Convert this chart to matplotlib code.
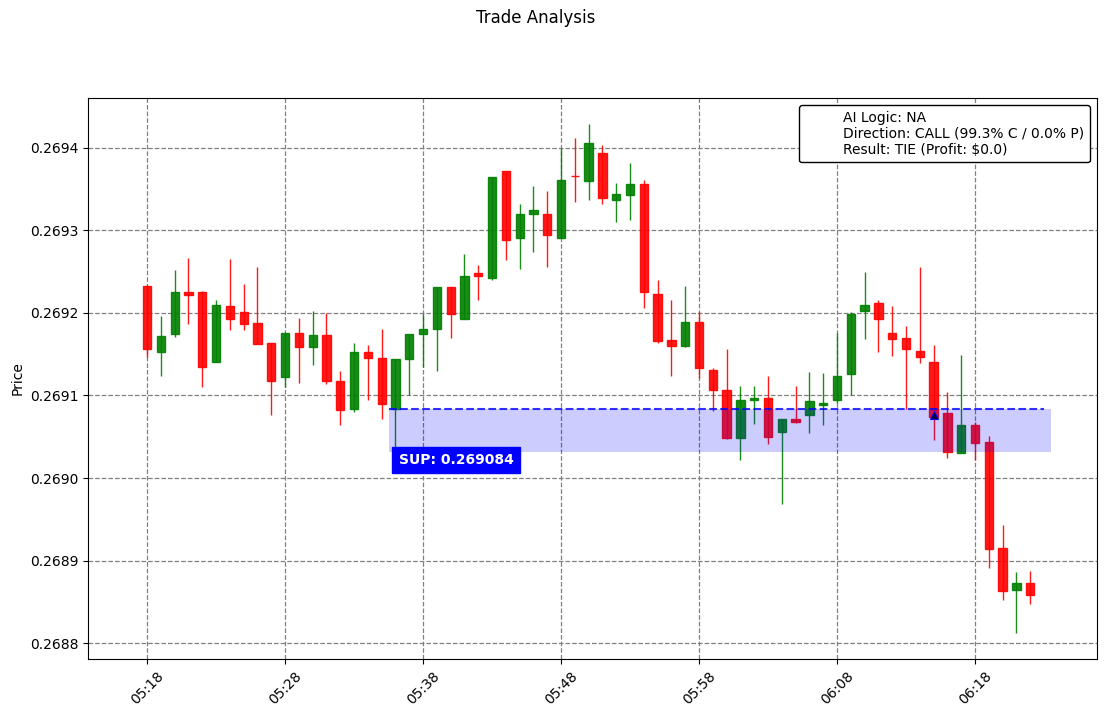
import matplotlib.pyplot as plt
from matplotlib.lines import Line2D
from matplotlib.ticker import FormatStrFormatter
import numpy as np

# candle data, one per minute from 05:18
times = ['05:18', '05:28', '05:38', '05:48', '05:58', '06:08', '06:18']
opens = [0.269233, 0.269152, 0.269174, 0.269225, 0.269225, 0.269140, 0.269208, 0.269201, 0.269188, 0.269164,
         0.269122, 0.269176, 0.269159, 0.269173, 0.269118, 0.269083, 0.269153, 0.269145, 0.269084, 0.269144,
         0.269174, 0.269180, 0.269231, 0.269193, 0.269248, 0.269242, 0.269372, 0.269290, 0.269319, 0.269320,
         0.269291, 0.269366, 0.269360, 0.269394, 0.269336, 0.269343, 0.269356, 0.269223, 0.269167, 0.269160,
         0.269189, 0.269131, 0.269106, 0.269048, 0.269095, 0.269097, 0.269056, 0.269072, 0.269076, 0.269089,
         0.269094, 0.269126, 0.269202, 0.269212, 0.269175, 0.269169, 0.269154, 0.269141, 0.269079, 0.269030,
         0.269064, 0.269044, 0.268915, 0.268865, 0.268873]
highs = [0.269234, 0.269196, 0.269252, 0.269266, 0.269226, 0.269215, 0.269265, 0.269235, 0.269255, 0.269164,
         0.269176, 0.269194, 0.269202, 0.269200, 0.269129, 0.269163, 0.269161, 0.269180, 0.269144, 0.269174,
         0.269198, 0.269231, 0.269231, 0.269271, 0.269258, 0.269364, 0.269372, 0.269332, 0.269354, 0.269348,
         0.269399, 0.269411, 0.269429, 0.269403, 0.269357, 0.269381, 0.269361, 0.269240, 0.269216, 0.269232,
         0.269201, 0.269133, 0.269156, 0.269111, 0.269111, 0.269124, 0.269071, 0.269111, 0.269128, 0.269127,
         0.269176, 0.269201, 0.269249, 0.269216, 0.269208, 0.269184, 0.269255, 0.269161, 0.269104, 0.269149,
         0.269068, 0.269051, 0.268943, 0.268886, 0.268887]
lows = [0.269146, 0.269123, 0.269171, 0.269186, 0.269110, 0.269140, 0.269179, 0.269179, 0.269162, 0.269076,
        0.269110, 0.269115, 0.269137, 0.269114, 0.269064, 0.269080, 0.269095, 0.269072, 0.269036, 0.269100,
        0.269134, 0.269130, 0.269169, 0.269193, 0.269215, 0.269240, 0.269264, 0.269253, 0.269274, 0.269255,
        0.269291, 0.269334, 0.269337, 0.269332, 0.269310, 0.269312, 0.269206, 0.269163, 0.269123, 0.269159,
        0.269121, 0.269081, 0.269047, 0.269022, 0.269065, 0.269041, 0.268968, 0.269067, 0.269055, 0.269064,
        0.269091, 0.269101, 0.269168, 0.269153, 0.269148, 0.269084, 0.269139, 0.269046, 0.269024, 0.269030,
        0.269022, 0.268891, 0.268853, 0.268812, 0.268847]
closes = [0.269156, 0.269172, 0.269225, 0.269222, 0.269135, 0.269209, 0.269192, 0.269187, 0.269162, 0.269118,
          0.269176, 0.269159, 0.269173, 0.269117, 0.269082, 0.269153, 0.269145, 0.269090, 0.269144, 0.269174,
          0.269180, 0.269231, 0.269198, 0.269244, 0.269244, 0.269364, 0.269288, 0.269320, 0.269325, 0.269294,
          0.269361, 0.269365, 0.269405, 0.269339, 0.269344, 0.269356, 0.269225, 0.269166, 0.269160, 0.269189,
          0.269133, 0.269106, 0.269048, 0.269095, 0.269097, 0.269050, 0.269071, 0.269068, 0.269093, 0.269091,
          0.269123, 0.269199, 0.269209, 0.269192, 0.269168, 0.269156, 0.269146, 0.269074, 0.269032, 0.269064,
          0.269043, 0.268914, 0.268863, 0.268873, 0.268859]

support = 0.269084
zone_low = 0.269032
zone_start, zone_end = 17.5, 65.5
entry_idx = 57
entry_price = 0.269076

info = ['AI Logic: NA', 'Direction: CALL (99.3% C / 0.0% P)', 'Result: TIE (Profit: $0.0)']

o = np.array(opens)
h = np.array(highs)
l = np.array(lows)
c = np.array(closes)
x = np.arange(len(o))
colors = ['green' if cc >= oo else 'red' for oo, cc in zip(o, c)]

fig = plt.figure(figsize=(11.05, 7.16), dpi=100)
ax = fig.add_axes([88 / 1105, 57 / 716, 1009 / 1105, 561 / 716])

# wicks then bodies
ax.vlines(x, l, h, colors=colors, linewidth=1, alpha=0.9, zorder=2)
ax.bar(x, np.abs(c - o), bottom=np.minimum(o, c), width=0.6, color=colors,
       edgecolor=colors, alpha=0.9, zorder=3)

# support zone
ax.fill_between([zone_start, zone_end], zone_low, support, color='blue', alpha=0.2,
                linewidth=0, zorder=4)
ax.plot([zone_start, zone_end - 0.5], [support, support], color='blue', linestyle='--',
        linewidth=1.5, alpha=0.8, zorder=5)
ax.text(22.4, 0.269022, f'SUP: {support:.6f}', color='white', fontsize=10,
        fontweight='bold', ha='center', va='center', zorder=6,
        bbox=dict(boxstyle='square,pad=0.45', facecolor='blue', edgecolor='blue'))

# entry marker
ax.plot([entry_idx], [entry_price], marker='^', color='black', markeredgecolor='blue',
        markersize=6, markeredgewidth=0.8, zorder=3.5)

ax.set_xlim(-4.28, 68.84)
ax.set_ylim(0.268781, 0.269460)
ax.set_xticks(np.arange(0, len(o), 10))
ax.set_xticklabels(times, rotation=45)
ax.yaxis.set_major_formatter(FormatStrFormatter('%.4f'))
ax.set_ylabel('Price')
ax.grid(True, linestyle='--', color='gray', linewidth=0.9)
ax.set_axisbelow(True)

# one legend entry, invisible handle, three-line label
leg = ax.legend([Line2D([], [], color='none')], ['\n'.join(info)], loc='upper right',
                framealpha=1)
leg.get_frame().set_edgecolor('black')

fig.suptitle('Trade Analysis', x=535.5 / 1105, y=1 - 18 / 716, va='center')

fig.savefig('out.png', dpi=100)
